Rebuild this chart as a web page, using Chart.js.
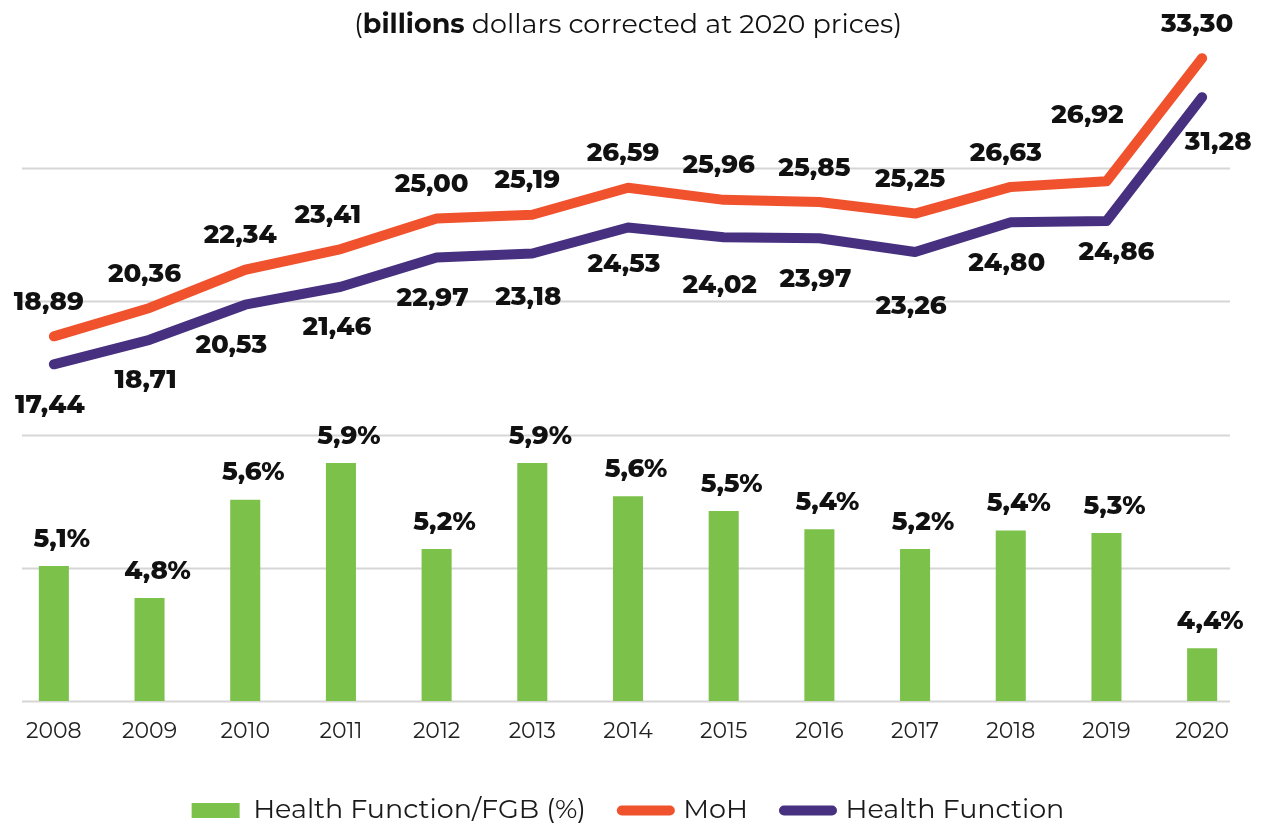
<!DOCTYPE html>
<html>
<head>
<meta charset="utf-8">
<script src="https://cdn.jsdelivr.net/npm/chart.js@4.4.0/dist/chart.umd.min.js"></script>
<style>
  html, body { margin: 0; padding: 0; background: #fff; }
  #wrap { width: 1266px; height: 827px; position: relative; }
</style>
</head>
<body>
<div id="wrap"><canvas id="chart"></canvas></div>
<script>
// values
const years = ['2008', '2009', '2010', '2011', '2012', '2013', '2014', '2015', '2016', '2017', '2018', '2019', '2020'];
const fgbShare = [5.07, 4.81, 5.61, 5.91, 5.21, 5.91, 5.64, 5.52, 5.37, 5.21, 5.36, 5.34, 4.40];
const mohSpend = [18.89, 20.36, 22.34, 23.41, 25.00, 25.19, 26.59, 25.96, 25.85, 25.25, 26.63, 26.92, 33.30];
const healthSpend = [17.44, 18.71, 20.53, 21.46, 22.97, 23.18, 24.53, 24.02, 23.97, 23.26, 24.80, 24.86, 31.28];
const seriesNames = ['Health Function/FGB (%)', 'MoH', 'Health Function'];

const GREEN = '#7CC14A', ORANGE = '#F0522D', PURPLE = '#46307F';
const FONT = "'Montserrat', 'Open Sans', 'Noto Sans', sans-serif";

// small nudges for value labels that sit off the usual spot
const labelNudge = {
  '1:3': [-8, 0], '1:11': [-14, -32],
  '2:2': [-10, 0], '2:5': [0, 3], '2:7': [0, 7], '2:9': [0, 13], '2:6': [0, -4],
  '2:11': [14, -10], '2:12': [20, 4],
};

const fmt = (v, d) => v.toFixed(d).replace('.', ',');

const gridPlugin = {
  id: 'softGrid',
  beforeDatasetsDraw(chart) {
    const { ctx, chartArea } = chart;
    const sc = chart.scales.yLine;
    ctx.save();
    ctx.strokeStyle = '#d6d6d6';
    ctx.lineWidth = 2;
    sc.ticks.forEach((t) => {
      if (t.value >= sc.max - 0.01) return;
      const y = Math.round(sc.getPixelForValue(t.value)) + 0.5;
      ctx.beginPath();
      ctx.moveTo(chartArea.left + 16, y);
      ctx.lineTo(chartArea.right - 20, y);
      ctx.stroke();
    });
    ctx.restore();
  },
};

const valueLabels = {
  id: 'valueLabels',
  afterDatasetsDraw(chart) {
    const { ctx } = chart;
    ctx.save();
    ctx.fillStyle = '#111';
    ctx.textAlign = 'center';
    ctx.textBaseline = 'middle';
    ctx.font = `800 26px ${FONT}`;
    chart.data.datasets.forEach((ds, di) => {
      chart.getDatasetMeta(di).data.forEach((el, i) => {
        const n = labelNudge[`${di}:${i}`] || [0, 0];
        let txt, dx, dy;
        if (di === 0) { txt = fmt(ds.data[i], 1) + '%'; dx = 8; dy = -27; }
        else if (di === 1) { txt = fmt(ds.data[i], 2); dx = -5; dy = -34; }
        else { txt = fmt(ds.data[i], 2); dx = -4; dy = 41; }
        ctx.fillText(txt, el.x + dx + n[0], el.y + dy + n[1]);
      });
    });
    ctx.restore();
  },
};

const titlePlugin = {
  id: 'mixedTitle',
  afterDraw(chart) {
    const { ctx, chartArea } = chart;
    const parts = [['(', false], ['billions', true], [' dollars corrected at 2020 prices)', false]];
    ctx.save();
    ctx.textBaseline = 'middle';
    ctx.fillStyle = '#111';
    let total = 0;
    parts.forEach(([t, b]) => { ctx.font = `${b ? 'bold ' : ''}27px ${FONT}`; total += ctx.measureText(t).width; });
    let x = (chartArea.left + chartArea.right) / 2 - total / 2;
    parts.forEach(([t, b]) => {
      ctx.font = `${b ? 'bold ' : ''}27px ${FONT}`;
      ctx.fillText(t, x, 25);
      x += ctx.measureText(t).width;
    });
    ctx.restore();
  },
};

new Chart(document.getElementById('chart'), {
  data: {
    labels: years,
    datasets: [
      { type: 'bar', label: seriesNames[0], data: fgbShare, yAxisID: 'yBar', backgroundColor: GREEN,
        barPercentage: 0.314, categoryPercentage: 1, order: 3 },
      { type: 'line', label: seriesNames[1], data: mohSpend, yAxisID: 'yLine', borderColor: ORANGE, borderWidth: 10,
        borderCapStyle: 'round', borderJoinStyle: 'round', pointRadius: 0, tension: 0, order: 1 },
      { type: 'line', label: seriesNames[2], data: healthSpend, yAxisID: 'yLine', borderColor: PURPLE, borderWidth: 10,
        borderCapStyle: 'round', borderJoinStyle: 'round', pointRadius: 0, tension: 0, order: 2 },
    ],
  },
  options: {
    responsive: true, maintainAspectRatio: false, animation: false,
    layout: { padding: { top: 35, left: 6, right: 16, bottom: 0 } },
    plugins: {
      tooltip: { enabled: false },
      legend: {
        position: 'bottom', maxHeight: 66,
        labels: {
          usePointStyle: true, pointStyleWidth: 48, boxHeight: 15, padding: 36,
          color: '#1a1a1a', font: { family: FONT, size: 27 },
          generateLabels: (chart) => chart.data.datasets.map((ds, i) => ({
            text: ds.label, datasetIndex: i, hidden: false, fontColor: '#1a1a1a',
            fillStyle: i === 0 ? GREEN : ds.borderColor,
            strokeStyle: i === 0 ? GREEN : ds.borderColor,
            lineWidth: i === 0 ? 0 : 10, lineCap: 'round',
            pointStyle: i === 0 ? 'rect' : 'line',
          })),
        },
      },
    },
    scales: {
      x: {
        offset: true,
        grid: { display: false, drawTicks: false }, border: { display: false },
        ticks: { color: '#222', padding: 17, font: { family: FONT, size: 22 } },
        afterFit: (s) => { s.height = 60; },
      },
      yBar: { display: false, min: 3.97, max: 9.4 },
      yLine: { display: false, min: 0, max: 34.5, ticks: { stepSize: 6.9 } },
    },
  },
  plugins: [gridPlugin, valueLabels, titlePlugin],
});
</script>
</body>
</html>
